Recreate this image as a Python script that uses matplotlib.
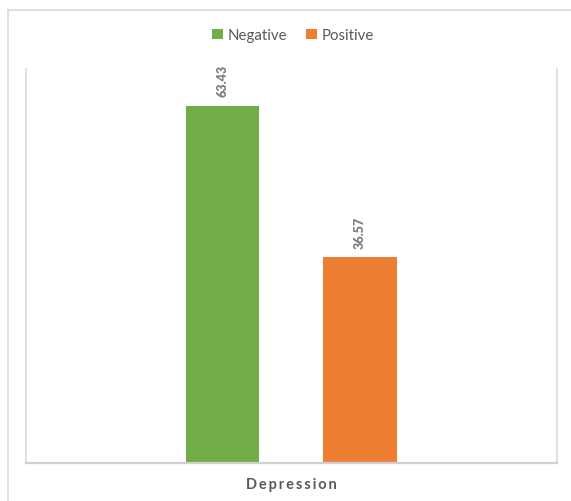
import matplotlib.pyplot as plt
from matplotlib.lines import Line2D

# data
category = "Depression"
series = ["Negative", "Positive"]
values = [63.43, 36.57]
colors = ["#70AD47", "#ED7D31"]

W, H = 571, 502
fig = plt.figure(figsize=(W / 100, H / 100), dpi=100)
plt.rcParams["font.family"] = ["Lato", "DejaVu Sans"]

# plot area in pixels: left 26, right 557, top 70, bottom 464
ax = fig.add_axes([26 / W, 1 - 464 / H, (557 - 26) / W, (464 - 70) / H])

bar_w = 0.1375
offsets = [-0.13, 0.129]
for name, val, col, off in zip(series, values, colors, offsets):
    ax.bar(off, val, width=bar_w, color=col, label=name, zorder=2)
    ax.text(off, val + 1.7, f"{val:.2f}", rotation=90, ha="center", va="bottom",
            fontsize=9, fontweight="heavy", color="#7F7F7F")

ax.set_xlim(-0.5, 0.5)
ax.set_ylim(0, 70)
ax.set_xticks([])
ax.set_yticks([])
for side in ["left", "right"]:
    ax.spines[side].set_color("#D9D9D9")
    ax.spines[side].set_linewidth(1.2)
ax.spines["bottom"].set_color("#D0D0D0")
ax.spines["bottom"].set_linewidth(1.6)
ax.spines["top"].set_visible(False)

# category label with letter spacing
spaced = "\u2009".join(category)
fig.text(291.5 / W, 1 - 485 / H, spaced, ha="center", va="center",
         fontsize=10.5, fontweight="bold", color="#595959")

leg = fig.legend(loc="center", bbox_to_anchor=(293 / W, 1 - 36 / H), ncol=2,
                 frameon=False, fontsize=10.8, handlelength=0.7, handleheight=0.7,
                 handletextpad=0.3, columnspacing=1.3, labelcolor="#595959")

# outer chart border (only top and left visible in the crop)
fig.add_artist(Line2D([8 / W, 1.0], [1 - 11 / H, 1 - 11 / H], color="#D9D9D9", lw=1.2))
fig.add_artist(Line2D([8 / W, 8 / W], [0.0, 1 - 11 / H], color="#D9D9D9", lw=1.2))

fig.savefig("out.png", dpi=100)
